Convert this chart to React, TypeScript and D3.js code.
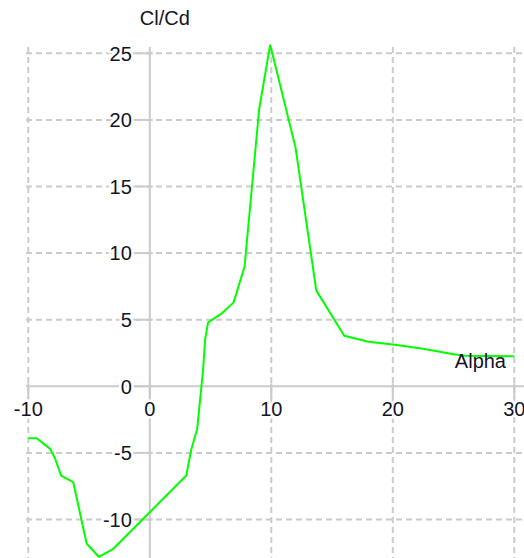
import * as d3 from "d3";

const alpha = [
  -10, -9.3, -8.2, -7.8, -7.3, -6.3, -5.2, -4.2, -3.0, 0, 3.0, 3.4, 3.9, 4.25, 4.4, 4.55, 4.8,
  5.9, 6.9, 7.8, 9.0, 9.9, 10.0, 12.0, 13.7, 16.0, 18.0, 20.0, 22.5, 25.0, 26.0, 30.0,
];
const clcd = [
  -3.9, -3.9, -4.7, -5.4, -6.7, -7.2, -11.8, -12.8, -12.2, -9.45, -6.7, -4.8, -3.2, 0, 1.4, 3.5, 4.8,
  5.45, 6.3, 9.0, 20.8, 25.6, 25.3, 17.9, 7.2, 3.8, 3.35, 3.13, 2.82, 2.4, 2.3, 2.25,
];

const xTicks = [-10, 0, 10, 20, 30];
const yTicks = [25, 20, 15, 10, 5, 0, -5, -10];

const W = 524;
const H = 558;
const FONT = "Tahoma, 'Liberation Sans', Arial, sans-serif";

export default function App() {
  const x = d3.scaleLinear().domain([-10, 30]).range([28.3, 514.3]);
  const y = d3.scaleLinear().domain([0, 25]).range([386.3, 53.3]);

  const gridLeft = 26;
  const gridRight = W;
  const gridTop = 47;
  const gridBottom = H;

  const line = d3
    .line<number>()
    .x((_, i) => x(alpha[i]))
    .y((d) => y(d));

  const gridColor = "#cbcbcb";
  const textColor = "#141424";

  return (
    <svg
      width={W}
      height={H}
      style={{ position: "absolute", left: 0, top: 0, background: "#fff" }}
      fontFamily={FONT}
    >
      {/* dashed grid */}
      {xTicks
        .filter((t) => t !== 0)
        .map((t) => (
          <line
            key={"gx" + t}
            x1={x(t)}
            x2={x(t)}
            y1={gridTop}
            y2={gridBottom}
            stroke={gridColor}
            strokeWidth={2}
            strokeDasharray="6,4"
          />
        ))}
      {yTicks
        .filter((t) => t !== 0)
        .map((t) => (
          <line
            key={"gy" + t}
            x1={gridLeft}
            x2={gridRight}
            y1={y(t)}
            y2={y(t)}
            stroke={gridColor}
            strokeWidth={2}
            strokeDasharray="6,4"
          />
        ))}

      {/* axes */}
      <line x1={x(0)} x2={x(0)} y1={gridTop} y2={gridBottom} stroke={gridColor} strokeWidth={2} />
      <line x1={gridLeft} x2={gridRight} y1={y(0)} y2={y(0)} stroke={gridColor} strokeWidth={2} />

      {/* ticks */}
      {yTicks.map((t) => (
        <line key={"ty" + t} x1={x(0) - 17} x2={x(0) + 3} y1={y(t)} y2={y(t)} stroke={gridColor} strokeWidth={2} />
      ))}
      {xTicks.map((t) => (
        <line key={"tx" + t} x1={x(t)} x2={x(t)} y1={y(0) - 3} y2={y(0) + 12} stroke={gridColor} strokeWidth={2} />
      ))}

      {/* curve */}
      <path d={line(clcd) ?? ""} fill="none" stroke="#00ff00" strokeWidth={2} strokeLinejoin="round" />

      {/* tick labels */}
      {yTicks.map((t) => (
        <text
          key={"ly" + t}
          x={x(0) - 18}
          y={y(t)}
          dy="0.36em"
          textAnchor="end"
          fontSize={20}
          fill={textColor}
          stroke="#fff"
          strokeWidth={5}
          paintOrder="stroke"
        >
          {t}
        </text>
      ))}
      {xTicks.map((t) => (
        <text
          key={"lx" + t}
          x={x(t)}
          y={y(0) + 22}
          dy="0.36em"
          textAnchor="middle"
          fontSize={20}
          fill={textColor}
          stroke="#fff"
          strokeWidth={5}
          paintOrder="stroke"
        >
          {t}
        </text>
      ))}

      {/* axis titles */}
      <text x={x(0) - 10} y={25} fontSize={20} fill={textColor}>
        Cl/Cd
      </text>
      <text x={506} y={368} textAnchor="end" fontSize={20} fill={textColor}>
        Alpha
      </text>
    </svg>
  );
}
